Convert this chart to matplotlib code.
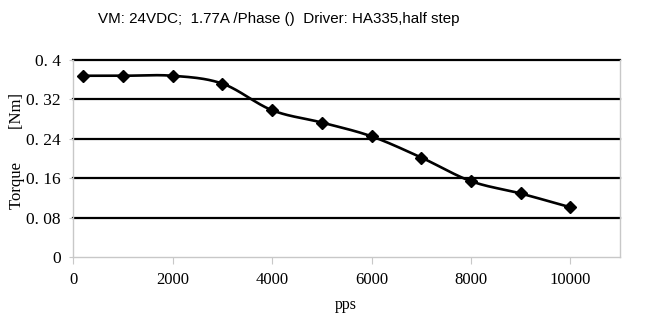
import numpy as np
import matplotlib
matplotlib.use("Agg")
import matplotlib.pyplot as plt

# Data
pps = [200, 1000, 2000, 3000, 4000, 5000, 6000, 7000, 8000, 9000, 10000]
torque = [0.368, 0.368, 0.368, 0.352, 0.298, 0.273, 0.245, 0.202, 0.154, 0.129, 0.101]
y_ticks = [0, 0.08, 0.16, 0.24, 0.32, 0.4]
y_ticklabels = ["0", "0. 08", "0. 16", "0. 24", "0. 32", "0. 4"]
x_ticks = [0, 2000, 4000, 6000, 8000, 10000]
x_ticklabels = ["0", "2000", "4000", "6000", "8000", "10000"]
title = "VM: 24VDC;  1.77A /Phase ()  Driver: HA335,half step"

W, H = 649, 336
fig = plt.figure(figsize=(W / 100, H / 100), dpi=100)
fig.patch.set_facecolor("white")

L, R, T, B = 73.3, 620, 60, 257
ax = fig.add_axes([L / W, 1 - B / H, (R - L) / W, (B - T) / H])
XMAX, YMAX = 11000, 0.4
ax.set_xlim(0, XMAX)
ax.set_ylim(0, YMAX)

# gridlines
for yv in y_ticks[1:]:
    ax.axhline(yv, color="black", lw=1.6, zorder=1, clip_on=False)

# smooth curve (Catmull-Rom in screen-proportional space)
sx = (R - L) / XMAX
sy = (B - T) / YMAX
P = np.column_stack([np.array(pps) * sx, np.array(torque) * sy])
pts = np.vstack([P[0], P, P[-1]])
curve = []
for i in range(1, len(pts) - 2):
    p0, p1, p2, p3 = pts[i - 1], pts[i], pts[i + 1], pts[i + 2]
    t = np.linspace(0, 1, 30)[:, None]
    c = 0.5 * ((2 * p1) + (-p0 + p2) * t + (2 * p0 - 5 * p1 + 4 * p2 - p3) * t ** 2
               + (-p0 + 3 * p1 - 3 * p2 + p3) * t ** 3)
    curve.append(c)
curve = np.vstack(curve)
ax.plot(curve[:, 0] / sx, curve[:, 1] / sy, color="black", lw=1.9, zorder=3,
        solid_capstyle="round")
ax.plot(pps, torque, linestyle="none", marker="D", markersize=6.0,
        color="black", zorder=4, clip_on=False)

# spines
for s in ["left", "bottom", "right"]:
    ax.spines[s].set_color("#c8c8c8")
    ax.spines[s].set_linewidth(1.0)
ax.spines["top"].set_visible(False)

ax.set_yticks(y_ticks)
ax.set_yticklabels(y_ticklabels, family="Liberation Serif", fontsize=12.5)
ax.set_xticks(x_ticks)
ax.set_xticklabels(x_ticklabels, family="Liberation Serif", fontsize=12)
ax.tick_params(axis="y", length=3, color="#c8c8c8", pad=6)
ax.tick_params(axis="x", length=5, color="#c8c8c8", pad=6)

fig.text(279 / W, 1 - 19 / H, title, family="Liberation Sans", fontsize=10.9,
         ha="center", va="center")
fig.text(17 / W, 1 - 151 / H, "Torque        [Nm]", family="Liberation Serif",
         fontsize=12, rotation=90, ha="center", va="center")
fig.text(346 / W, 1 - 305 / H, "pps", family="Liberation Serif", fontsize=11.5,
         ha="center", va="center")

fig.savefig("out.png", dpi=100, facecolor="white")
